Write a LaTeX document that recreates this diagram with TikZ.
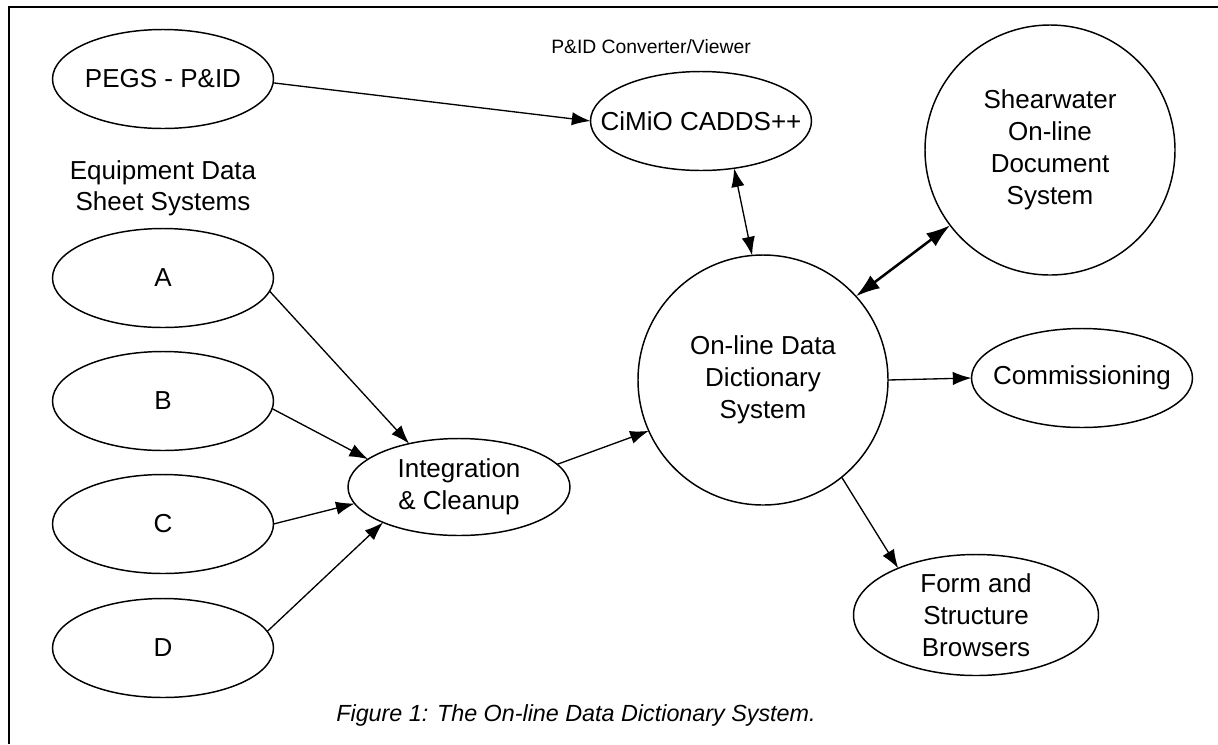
\documentclass[tikz,border=0pt]{standalone}
\usepackage{fontspec}
\setmainfont{Liberation Sans}
\usetikzlibrary{shapes.geometric,arrows.meta}

\begin{document}
\begin{tikzpicture}[x=0.75pt,y=0.75pt,yscale=-1,xscale=1,
    bubble/.style={draw,ellipse,line width=1.1pt,inner xsep=-20pt,inner ysep=0pt,outer sep=0pt,
        minimum width=165.75pt,minimum height=74.25pt,align=center,font=\fontsize{19.5}{24}\selectfont},
    disc/.style={draw,circle,line width=1.1pt,inner sep=0pt,outer sep=0pt,minimum size=187.5pt,
        align=center,font=\fontsize{19.5}{24}\selectfont},
    note/.style={inner sep=0pt,align=center,font=\fontsize{19.5}{23.5}\selectfont},
    flow/.style={-{Latex[length=14pt,width=10pt]},line width=1pt},
    twoway/.style={{Latex[length=14pt,width=10pt]}-{Latex[length=14pt,width=10pt]},line width=1pt},
    bigway/.style={{Latex[length=18pt,width=12pt]}-{Latex[length=18pt,width=12pt]},line width=1.9pt}]
        \useasboundingbox (0,0) rectangle (1218,744);

        % frame
        \draw [line width=2.2pt] (9,744) -- (9,7) -- (1218,7) ;

        % Ellipses
        \node [bubble] (pegs) at (163,79) {PEGS - P\&ID};
        \node [bubble] (cimio) at (701,121) {CiMiO CADDS++};
        \node [bubble] (sysA) at (163,278) {A};
        \node [bubble] (sysB) at (163,401) {B};
        \node [bubble] (sysC) at (163,524) {C};
        \node [bubble] (sysD) at (163,648) {D};
        \node [bubble,minimum width=166.5pt,minimum height=72.75pt] (integ) at (459,487) {Integration\\\& Cleanup};
        \node [bubble] (comm) at (1082,378) {Commissioning};
        \node [bubble,minimum width=183.75pt,minimum height=90.75pt] (browse) at (976,615) {Form and\\Structure\\Browsers};

        % Circles
        \node [disc] (dict) at (763,380) {On-line Data\\Dictionary\\System};
        \node [disc] (shear) at (1050,150) {Shearwater\\On-line\\Document\\System};

        % Text Nodes
        \node [note,font=\fontsize{14.5}{17}\selectfont] (convlbl) at (651,47) {P\&ID Converter/Viewer};
        \node [note] (eqlbl) at (163,188) {Equipment Data\\Sheet Systems};
        \node [note,font=\fontsize{17.5}{21}\selectfont\itshape] (figcap) at (576,715) {Figure 1: The On-line Data Dictionary System.};

        % Connectors
        \draw [flow] (pegs.-2) -- (cimio.west) ;
        \draw [twoway] (cimio.-55) -- (dict.95) ;
        \draw [bigway] (dict.42) -- (shear.217) ;
        \draw [flow] (dict.east) -- (comm.west) ;
        \draw [flow] (dict.-51) -- (browse.149) ;
        \draw [flow] (sysA.-7) -- (integ.139) ;
        \draw [flow] (sysB.-4) -- (integ.163) ;
        \draw [flow] (sysC.0) -- (integ.189) ;
        \draw [flow] (sysD.9) -- (integ.205) ;
        \draw [flow] (integ.13) -- (dict.204) ;

    \end{tikzpicture}
\end{document}
